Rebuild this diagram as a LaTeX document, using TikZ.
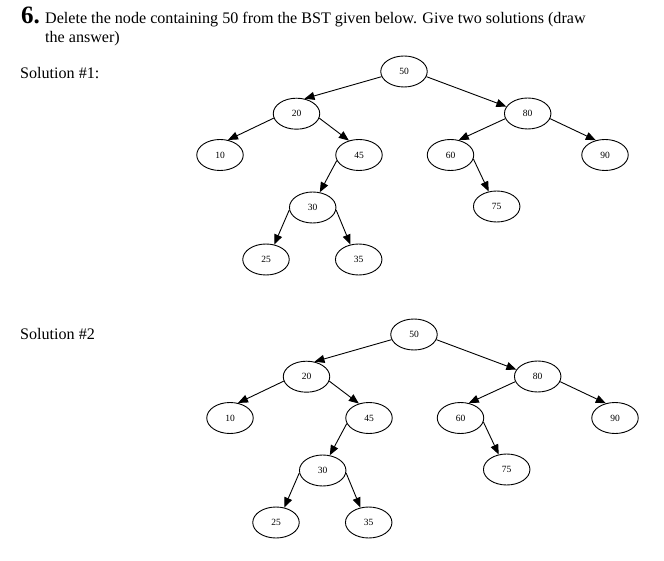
\documentclass[tikz,border=0pt]{standalone}
\usepackage{fontspec}
\setmainfont{Liberation Serif}
\usetikzlibrary{arrows.meta,shapes.geometric}
\tikzset{
  bst/.style={ellipse,draw,line width=0.9pt,minimum width=46.5pt,minimum height=31pt,inner sep=0pt,font=\fontsize{9.5}{10}\selectfont},
  edge/.style={line width=0.9pt,-{Triangle[length=10pt,width=8pt]}},
  txt/.style={anchor=base west,inner sep=0pt,font=\fontsize{16.1}{18}\selectfont}
}
\newcommand\bsttree[1]{%
  \node[bst] (#1n50) at (404,71.5) {50};
  \node[bst] (#1n20) at (296.5,113.7) {20};
  \node[bst] (#1n80) at (527.7,113.5) {80};
  \node[bst] (#1n10) at (220,155) {10};
  \node[bst] (#1n45) at (359,155) {45};
  \node[bst] (#1n60) at (450.5,155) {60};
  \node[bst] (#1n90) at (605,155) {90};
  \node[bst] (#1n30) at (312.7,207.5) {30};
  \node[bst] (#1n75) at (496.7,206.5) {75};
  \node[bst] (#1n25) at (266,259.5) {25};
  \node[bst] (#1n35) at (358.7,259.5) {35};
  \draw[edge] (#1n50.193) -- (#1n20.62);
  \draw[edge] (#1n20.191) -- (#1n10.62);
  \draw[edge] (#1n20.349) -- (#1n45.125);
  \draw[edge] (#1n45.194) -- (#1n30.65);
  \draw[edge] (#1n50.347) -- (#1n80.162);
  \draw[edge] (#1n80.193) -- (#1n60.61);
  \draw[edge] (#1n80.347) -- (#1n90.122);
  \draw[edge] (#1n60.350) -- (#1n75.118);
  \draw[edge] (#1n30.186) -- (#1n25.61);
  \draw[edge] (#1n30.354) -- (#1n35.119);
}
\begin{document}
\begin{tikzpicture}[x=1pt,y=-1pt]
  \useasboundingbox[fill=white] (0,0) rectangle (664,561);
  \node[anchor=base west,inner sep=0pt,font=\fontsize{25}{25}\selectfont\bfseries] (num) at (21,24) {6.};
  \node[txt] (line1) at (45,24) {Delete the node containing 50 from the BST given below. Give two solutions (draw};
  \node[txt] (line2) at (45,42.5) {the answer)};
  \node[txt] (sol1) at (20,79) {Solution \#1:};
  \node[txt] (sol2) at (20,340) {Solution \#2};
  \bsttree{a}
  \begin{scope}[shift={(10,263)}]
    \bsttree{b}
  \end{scope}
\end{tikzpicture}
\end{document}
